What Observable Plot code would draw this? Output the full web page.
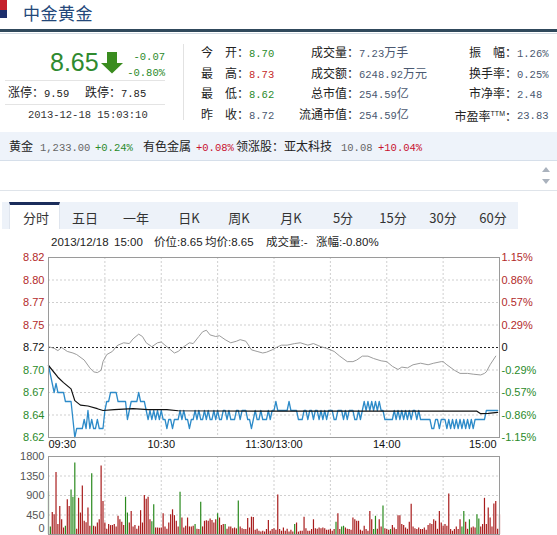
<!DOCTYPE html>
<html><head><meta charset="utf-8">
<script src="https://cdn.jsdelivr.net/npm/d3@7"></script>
<script src="https://cdn.jsdelivr.net/npm/@observablehq/plot@0.6"></script>
<style>
body{margin:0;width:557px;height:535px;overflow:hidden;position:relative;background:#fff;font-family:"Noto Sans CJK SC",sans-serif;font-size:12px;color:#333}
.a{position:absolute;white-space:nowrap}
.n{font-family:"Liberation Mono",monospace;font-size:10.5px}
.r{position:absolute}
</style></head><body>
<script>
// ---------------- data ----------------
const stockName = "中金黄金";
const lastPrice = "8.65", change = "-0.07", changePct = "-0.80%";
const limitUp = "9.59", limitDown = "7.85", quoteTime = "2013-12-18 15:03:10";
const col1Labels = ["今　开：","最　高：","最　低：","昨　收："];
const col1Values = ["8.70","8.73","8.62","8.72"];
const col2Labels = ["成交量：","成交额：","总市值：","流通市值："];
const col2Values = ["7.23万手","6248.92万元","254.59亿","254.59亿"];
const col3Labels = ["振　幅：","换手率：","市净率：","市盈率"];
const col3Values = ["1.26%","0.25%","2.48","23.83"];
const tabs = ["分时","五日","一年","日K","周K","月K","5分","15分","30分","60分"];
const infoItems = ["2013/12/18","15:00","价位:8.65","均价:8.65","成交量:-","涨幅:-0.80%"];

const prevClose = 8.72;
const priceTicks = [8.82,8.795,8.77,8.745,8.72,8.695,8.67,8.645,8.62];
const priceTickLabels = ["8.82","8.80","8.77","8.75","8.72","8.70","8.67","8.64","8.62"];
const pctTickLabels = ["1.15%","0.86%","0.57%","0.29%","0","-0.29%","-0.57%","-0.86%","-1.15%"];
const timeTicks = [0,60,120,180,240];
const timeTickLabels = ["09:30","10:30","11:30/13:00","14:00","15:00"];
const gridMinutes = [30,60,90,120,150,180,210];
const volTicks = [450,900,1350,1800];
const volTickLabels = ["450","900","1350","1800"];
const volGrid = [450,900,1350];

// per-minute price (blue line)
const price = [
8.70,8.69,8.68,8.67,8.68,8.67,8.67,8.67,8.67,8.66,8.66,8.66,8.66,8.64,8.62,8.63,8.63,8.63,8.63,8.64,
8.63,8.65,8.63,8.64,8.63,8.63,8.64,8.63,8.63,8.63,8.65,8.66,8.66,8.67,8.67,8.67,8.67,8.66,8.66,8.66,
8.66,8.66,8.64,8.65,8.66,8.66,8.66,8.66,8.67,8.66,8.66,8.66,
8.65,8.64,8.65,8.64,8.65,8.64,8.65,8.64,8.65,8.64,
8.64,8.63,8.64,8.64,8.63,8.64,8.64,8.64,8.65,8.64,
8.65,8.64,8.64,8.63,8.64,8.64,8.65,8.64,8.65,8.64,
8.64,8.65,8.64,8.65,8.64,8.64,8.65,8.64,8.65,8.64,
8.64,8.65,8.65,8.64,8.65,8.64,8.64,8.64,8.65,8.65,
8.64,8.65,8.65,8.65,8.64,8.64,8.63,8.64,8.65,8.64,
8.64,8.65,8.64,8.64,8.64,8.65,8.64,8.65,8.65,8.66,
8.65,8.65,
8.65,8.65,8.65,8.65,8.66,8.65,8.65,8.65,8.65,8.64,8.64,8.64,
8.65,8.65,8.64,8.65,8.65,8.64,8.65,8.65,8.64,8.65,8.64,8.65,8.64,8.65,8.65,
8.65,8.64,8.64,8.65,8.65,8.65,8.64,8.65,8.64,8.65,8.65,8.65,8.64,8.64,8.65,8.64,8.65,
8.66,8.65,8.66,8.65,8.66,8.65,8.66,8.65,8.66,8.65,8.65,
8.64,8.64,8.64,8.64,8.64,
8.65,8.64,8.65,8.64,8.65,8.64,8.65,8.64,8.65,8.64,8.65,8.65,8.64,8.65,8.64,
8.64,8.64,8.64,8.64,8.64,
8.63,8.63,8.64,8.64,8.63,8.64,8.64,8.64,8.63,8.64,8.63,8.64,8.63,8.64,8.63,
8.64,8.63,8.64,8.63,8.64,8.63,8.64,8.63,8.64,8.64,8.64,8.64,8.64,8.64,
8.65,8.65,8.65,8.65,8.65,8.65,8.65
];
// average price (black line) read at minutes
const avgMinute = [0,5,8,12,14,17,21,26,29,35,45,53,63,69,124,228,230,234,239];
const avgPrice  = [8.70,8.687,8.681,8.674,8.661,8.656,8.655,8.652,8.650,8.651,8.652,8.651,8.651,8.6497,8.6493,8.6493,8.6465,8.6468,8.648];
// market index change % (grey line)
const indexMinute = [0,3,5,7,10,13,15,19,22,24,26,28,29,31,34,36,37,40,43,45,48,50,52,55,58,60,62,65,67,69,72,75,77,80,82,84,86,89,91,94,97,100,102,105,107,108,111,114,116,119,122,124,127,131,134,138,141,145,148,152,155,159,162,164,167,170,173,177,180,183,186,188,191,194,198,202,205,209,210,212,216,219,223,226,230,232,233,235,238];
const indexPct = [0.01,-0.01,-0.04,0.0,-0.05,-0.07,-0.09,-0.16,-0.26,-0.31,-0.32,-0.29,-0.18,-0.09,-0.05,0.01,0.03,0.06,0.05,0.11,0.17,0.14,0.06,0.01,0.06,0.07,0.03,-0.03,-0.07,-0.05,0.01,0.06,0.05,0.14,0.20,0.22,0.16,0.14,0.15,0.10,0.06,0.08,0.10,0.08,0.01,-0.03,-0.05,-0.07,-0.06,-0.03,0.01,0.03,0.03,0.05,0.06,0.03,0.05,0.01,-0.01,-0.05,-0.11,-0.18,-0.18,-0.16,-0.11,-0.11,-0.14,-0.17,-0.18,-0.24,-0.28,-0.25,-0.26,-0.22,-0.20,-0.22,-0.20,-0.18,-0.18,-0.22,-0.29,-0.33,-0.33,-0.34,-0.35,-0.33,-0.31,-0.22,-0.11];
// per-minute volume (lots) and direction
const volume = [
990,175,510,455,1430,230,645,340,150,190, 800,645,1025,860,1650, 120,
835,495,1117,305,270, 610,190,1400,190,175,265,340,1580,760,265, 120,
230,205,205,230,175,420,340,280,205,860, 495,265,530,175,205, 120,
190,550,265,900,815,860,340,295,685,150, 150,145,150,480,175, 120,
265,455,570,435,305,175,975,380,150,190, 380,175,175,190,230, 120,
115,745,175,305,320,305,355,325,265,340, 480,380,205,230,230, 120,
175,175,130,150,130,775,175,130,115,115, 370,150,400,395,100, 120,
75,55,75,55,115,325,75,115,130,100, 910,115,75,150,75, 120,
55,100,55,230,265,55,75,75,400,130, 75,75,115,340,130, 120,
150,130,150,130,100,100,115,75,115,280, 480,115,175,190,150, 120,
115,100,380,340,305,305,100,75,190,115, 75,530,340,115,420, 120,
340,175,660,130,115,100,115,205,150,115, 430,430,230,205,150, 120,
280,700,175,130,115,150,115,115,150,100, 205,250,230,340,305, 120,
530,265,190,230,190,935,115,75,115,175, 115,340,175,530,280, 120,
340,150,175,150,455,355,175,230,835,230, 610,380,175,705,760, 120,
455
];
const volumeDir = [
"g","g","r","r","r","r","r","r","r","g", "r","r","g","g","g", "r",
"r","r","r","r","r", "r","r","g","r","r","r","r","r","r","r", "r",
"r","r","r","r","r","r","r","r","r","g", "g","r","r","r","r", "r",
"r","r","r","r","r","r","r","g","g","r", "r","r","r","r","r", "r",
"r","r","r","r","r","r","g","r","r","r", "r","r","r","r","g", "r",
"r","g","r","r","r","r","r","r","r","r", "g","r","r","r","g", "r",
"r","r","r","r","r","g","r","r","r","r", "r","r","r","r","r", "r",
"r","r","r","r","r","r","r","r","r","r", "r","r","r","r","r", "r",
"r","r","r","g","r","r","r","r","r","r", "r","r","r","r","r", "r",
"r","r","r","r","r","r","r","r","r","g", "r","r","g","g","r", "r",
"r","r","r","r","r","r","r","r","r","r", "r","r","r","g","g", "r",
"r","r","g","r","r","r","g","r","r","r", "r","r","r","r","r", "r",
"r","r","r","r","r","r","r","r","r","r", "r","r","r","r","r", "r",
"r","r","r","r","r","r","r","r","r","r", "r","r","g","g","r", "r",
"g","r","r","r","g","g","r","r","r","r", "r","r","r","r","r", "r",
"r"
];

// ---------------- helpers ----------------
const RED = "#c42a2a", GREEN = "#2a8a2a", GREY = "#4a5870";
function put(x, y, html, style = "", right = false, lh = 14) {
  const d = document.createElement("div");
  d.className = "a";
  d.style.cssText = `top:${y - lh / 2}px;line-height:${lh}px;` + (right ? `right:${557 - x}px;` : `left:${x}px;`) + style;
  d.innerHTML = html;
  document.body.appendChild(d);
  return d;
}
function rect(x, y, w, h, style) {
  const d = document.createElement("div");
  d.className = "r";
  d.style.cssText = `left:${x}px;top:${y}px;width:${w}px;height:${h}px;` + style;
  document.body.appendChild(d);
  return d;
}
const mix = s => s.replace(/[\x20-\x7e]+/g, m => `<span class="n">${m}</span>`);

// ---------------- header ----------------
rect(0, 0, 7, 10, "background:#c4202c");
rect(0, 10, 7, 8, "background:#1d2e6c");
put(23, 12.5, stockName, "font-size:17px;color:#24487a;letter-spacing:0.5px", false, 25);
rect(0, 29, 557, 3, "background:#30495c");
rect(0, 33, 557, 1, "background:#d3dbe3");

put(50, 62, lastPrice, "font-family:'Liberation Sans';font-size:25px;color:#2f8a2f", false, 26);
const arrow = document.createElement("div");
arrow.className = "r";
arrow.style.cssText = "left:101px;top:52px";
arrow.innerHTML = `<svg width="23" height="22"><polygon points="6,0 16,0 16,11 22,11 11,21.5 0,11 6,11" fill="#3a8c1f"/></svg>`;
document.body.appendChild(arrow);
put(165, 55, mix(change), "color:#2a8a2a", true);
put(165, 71, mix(changePct), "color:#2a8a2a", true);
rect(5, 80, 160, 1, "background:#e4e4e4");
put(8, 92, "涨停：" + mix(limitUp), "color:#222");
put(85, 92, "跌停：" + mix(limitDown), "color:#222");
rect(5, 104, 160, 1, "background:#e4e4e4");
put(28, 113, mix(quoteTime), "color:#333");
rect(183, 44, 1, 76, "background:#e2e2e2");

const rowY = [51.5, 72.5, 93, 114];
const col1Colors = [GREEN, RED, GREEN, GREY];
rowY.forEach((y, i) => {
  put(201, y, col1Labels[i], "color:#222");
  put(249, y, mix(col1Values[i]), `color:${col1Colors[i]}`);
  put(359, y, col2Labels[i], "color:#222", true);
  put(359, y, mix(col2Values[i]), `color:${GREY}`);
  const lab = i === 3 ? col3Labels[i] + `<sup style="font-family:'Liberation Sans';font-size:7px">TTM</sup>：` : col3Labels[i];
  put(517, y, lab, "color:#222", true);
  put(517, y, mix(col3Values[i]), `color:${GREY}`);
});

// ---------------- sector bar ----------------
rect(0, 132, 557, 28, "background:#eef3fa;border-bottom:1px solid #d6dfea");
const barItems = [
  [9, "黄金", "#222"], [40, mix("1,233.00"), "#666"], [95, mix("+0.24%"), GREEN],
  [143, "有色金属", "#222"], [196, mix("+0.08%"), "#c8102e"],
  [236, "领涨股：亚太科技", "#222"], [341, mix("10.08"), "#666"], [378, mix("+10.04%"), "#c8102e"]
];
barItems.forEach(([x, t, c]) => put(x, 146, t, `color:${c}`));
rect(0, 161, 557, 29, "background:#fff;border-bottom:1px solid #dfe4ea");
const sc = document.createElement("div");
sc.className = "r";
sc.style.cssText = "left:542px;top:166px";
sc.innerHTML = `<svg width="9" height="20"><polygon points="0,6 8,6 4,1" fill="#aab2bd"/><polygon points="0,13 8,13 4,18" fill="#aab2bd"/></svg>`;
document.body.appendChild(sc);

// ---------------- tabs ----------------
rect(2, 202, 516, 27, "background:#edf2f9");
rect(9, 202, 51, 27, "background:#fff;border-top:3px solid #1b2d5b;box-sizing:border-box;border-left:1px solid #dfe5ee;border-right:1px solid #dfe5ee");
const tabX = [36, 85, 136, 189, 239, 291, 343, 393, 443, 493];
tabs.forEach((t, i) => {
  put(tabX[i], 218, t, "font-size:13px;color:#333;transform:translateX(-50%)");
});
const infoX = [51, 114, 154, 205, 266, 316];
infoItems.forEach((t, i) => put(infoX[i], 242, t, "font-family:'Liberation Sans','Noto Sans CJK SC';font-size:11.5px;color:#222"));

// ---------------- price chart ----------------
const priceData = price.map((v, i) => ({m: i, v}));
const avgData = avgMinute.map((m, i) => ({m, v: avgPrice[i]}));
const indexData = indexMinute.map((m, i) => ({m, p: indexPct[i]}));
const groups = [[0,1,2,3],[4],[5,6,7,8]];
const groupColor = ["#b22a2a", "#111", "#2a8a2a"];
const axisMarks = [];
groups.forEach((g, gi) => {
  const t = g.map(i => priceTicks[i]);
  axisMarks.push(Plot.axisY(t, {anchor: "left", tickSize: 0, tickPadding: 4, color: groupColor[gi], fontSize: 11, label: null,
    tickFormat: v => priceTickLabels[priceTicks.indexOf(v)]}));
  axisMarks.push(Plot.axisY(t, {anchor: "right", tickSize: 0, tickPadding: 2, color: groupColor[gi], fontSize: 11, label: null,
    tickFormat: v => pctTickLabels[priceTicks.indexOf(v)]}));
});
const gridStyle = {stroke: "#cfcfcf", strokeOpacity: 1, strokeDasharray: "2,2"};
const pricePlot = Plot.plot({
  width: 557, height: 208, marginLeft: 48, marginRight: 58, marginTop: 10, marginBottom: 18,
  x: {domain: [0, 240], axis: null},
  y: {domain: [8.62, 8.82]},
  style: {fontFamily: "'Liberation Sans', Arial, sans-serif", fontSize: "11px", background: "transparent", overflow: "visible", color: "#222"},
  marks: [
    Plot.gridY(priceTicks.filter(v => v !== prevClose), gridStyle),
    Plot.gridX(gridMinutes, gridStyle),
    Plot.ruleY([prevClose], {stroke: "#222", strokeDasharray: "2,2"}),
    Plot.line(indexData, {x: "m", y: d => prevClose * (1 + d.p / 100), stroke: "#9c9c9c", strokeWidth: 1}),
    Plot.line(priceData, {x: "m", y: "v", stroke: "#2d8bc9", strokeWidth: 1.3}),
    Plot.line(avgData, {x: "m", y: "v", stroke: "#111", strokeWidth: 1.2}),
    Plot.frame({stroke: "#9a9a9a"}),
    ...axisMarks,
    Plot.text([timeTicks[0]], {x: d => d, text: () => timeTickLabels[0], frameAnchor: "bottom", lineAnchor: "top", dy: 3, textAnchor: "start", fill: "#111"}),
    Plot.text(timeTicks.slice(1, 4), {x: d => d, text: d => timeTickLabels[timeTicks.indexOf(d)], frameAnchor: "bottom", lineAnchor: "top", dy: 3, fill: "#111"}),
    Plot.text([timeTicks[4]], {x: d => d, text: () => timeTickLabels[4], frameAnchor: "bottom", lineAnchor: "top", dy: 3, dx: -3, textAnchor: "end", fill: "#111"})
  ]
});
const pw = document.createElement("div");
pw.className = "r";
pw.style.cssText = "left:0;top:247px";
pw.appendChild(pricePlot);
document.body.appendChild(pw);

// ---------------- volume chart ----------------
const volPlot = Plot.plot({
  width: 557, height: 84, marginLeft: 48, marginRight: 58, marginTop: 6, marginBottom: 0,
  x: {domain: [0, 240], axis: null},
  y: {domain: [0, 1800]},
  color: {type: "identity"},
  style: {fontFamily: "'Liberation Sans', Arial, sans-serif", fontSize: "11px", background: "transparent", overflow: "visible"},
  marks: [
    Plot.gridY(volGrid, gridStyle),
    Plot.gridX(gridMinutes, gridStyle),
    Plot.ruleX(volume, {x: (d, i) => i, y1: 0, y2: d => d, stroke: (d, i) => volumeDir[i] === "g" ? "#2a8a1e" : "#a81c1c", strokeWidth: 1.2}),
    Plot.frame({stroke: "#9a9a9a"}),
    Plot.axisY(volTicks, {anchor: "left", tickSize: 0, tickPadding: 4, color: "#555", fontSize: 11, label: null,
      tickFormat: v => volTickLabels[volTicks.indexOf(v)]}),
    Plot.text([0], {y: d => d, text: () => "0", frameAnchor: "left", textAnchor: "end", dx: -4, dy: -6, fill: "#555", fontSize: 11})
  ]
});
const vw = document.createElement("div");
vw.className = "r";
vw.style.cssText = "left:0;top:450px";
vw.appendChild(volPlot);
document.body.appendChild(vw);
</script>
</body></html>
